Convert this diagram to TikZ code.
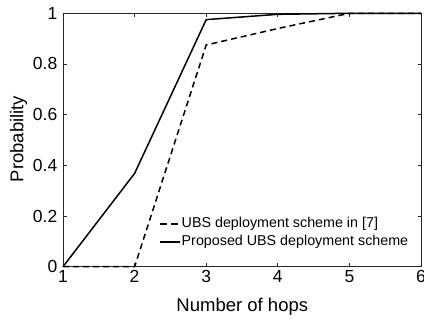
\documentclass[tikz,border=0pt]{standalone}
\usepackage{fontspec}
\setmainfont{Liberation Sans}
\begin{document}
\begin{tikzpicture}[x=1pt,y=1pt,
  axisline/.style={line width=0.8pt,black!85},
  ticklab/.style={font=\fontsize{17.5}{20}\selectfont,inner sep=0pt},
  axlab/.style={font=\fontsize{18.5}{22}\selectfont,inner sep=0pt},
  leglab/.style={font=\fontsize{14.3}{16}\selectfont,inner sep=0pt,anchor=west},
  dashedcurve/.style={line width=1.5pt,dash pattern=on 6pt off 4pt},
  solidcurve/.style={line width=1.5pt}]
\useasboundingbox (0,0) rectangle (424,321);
\begin{scope}[shift={(-8.6pt,54.3pt)},x=71.6pt,y=253.4pt]
  % frame
  \draw[axisline] (1,0) rectangle (6,1);
  % ticks
  \foreach \h in {2,3,4,5} {
    \draw[axisline] (\h,0) -- ++(0,3.5pt);
    \draw[axisline] (\h,1) -- ++(0,-3.5pt);
  }
  \foreach \p in {0.2,0.4,0.6,0.8} {
    \draw[axisline] (1,\p) -- ++(3.5pt,0);
    \draw[axisline] (6,\p) -- ++(-3.5pt,0);
  }
  % tick labels
  \foreach \h in {1,2,3,4,5,6} {
    \node[ticklab] (xt\h) at ([yshift=-9.6pt]\h,0) {\h};
  }
  \node[ticklab,anchor=east] (yt0) at ([xshift=-5.5pt]1,0) {0};
  \node[ticklab,anchor=east] (yt1) at ([xshift=-5.5pt]1,0.2) {0.2};
  \node[ticklab,anchor=east] (yt2) at ([xshift=-5.5pt]1,0.4) {0.4};
  \node[ticklab,anchor=east] (yt3) at ([xshift=-5.5pt]1,0.6) {0.6};
  \node[ticklab,anchor=east] (yt4) at ([xshift=-5.5pt]1,0.8) {0.8};
  \node[ticklab,anchor=east] (yt5) at ([xshift=-5.5pt]1,1) {1};
  % curves
  \draw[dashedcurve] (1,0) -- (2,0) -- (3,0.875) -- (4,0.94) -- (5,1) -- (6,1);
  \draw[solidcurve] (1,0) -- (2,0.368) -- (3,0.975) -- (4,0.996) -- (5,1) -- (6,1);
\end{scope}
% axis labels
\node[axlab,anchor=base] (xlab) at (242.3,9.3) {Number of hops};
\node[axlab,rotate=90] (ylab) at (18.5,182) {Probability};
% legend
\coordinate (l1a) at (160,97);
\coordinate (l1b) at (178,97);
\coordinate (l2a) at (160,79);
\coordinate (l2b) at (180,79);
\draw[line width=1.5pt,dash pattern=on 6.5pt off 4.5pt] (l1a) -- (l1b);
\draw[solidcurve] (l2a) -- (l2b);
\node[leglab] (leg1) at (181.5,97) {UBS deployment scheme in [7]};
\node[leglab] (leg2) at (181.5,79) {Proposed UBS deployment scheme};
\end{tikzpicture}
\end{document}
